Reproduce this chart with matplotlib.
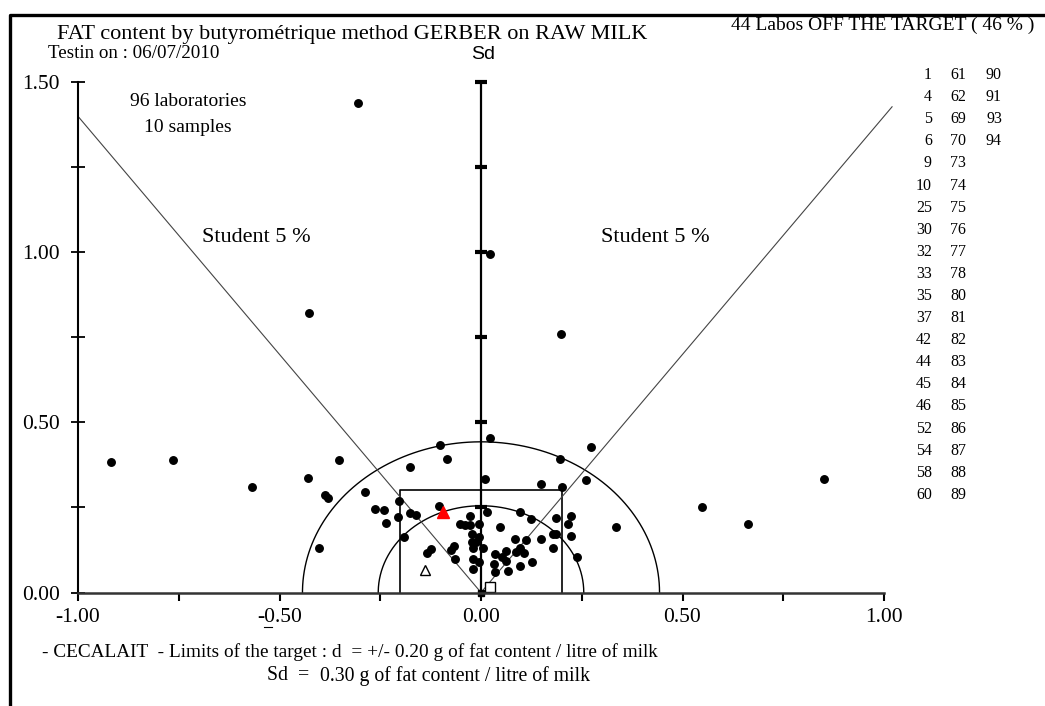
import matplotlib
matplotlib.use("Agg")
import matplotlib.pyplot as plt
from matplotlib.lines import Line2D
from matplotlib.ticker import MultipleLocator, FormatStrFormatter
import numpy as np

W, H, DPI = 1045, 706, 100

# mean deviation d (g/l) and standard deviation Sd (g/l) of each lab
lab_d = [-0.304, 0.022, -0.427, 0.198,
         -0.917, -0.764, -0.567, -0.429, -0.352, -0.387, -0.379, -0.402,
         0.549, 0.662, 0.852, 0.336,
         -0.102, -0.084, -0.177, 0.010, -0.289, -0.203, -0.263, -0.240,
         -0.207, -0.236, -0.177, -0.162, -0.103, -0.190, -0.133, -0.124,
         -0.067, -0.075, -0.065, -0.027, -0.053, -0.040, -0.027, -0.004,
         -0.023, -0.005, -0.023, -0.013, -0.019, 0.005, -0.019, -0.005,
         -0.020, 0.015, 0.022,
         0.272, 0.197, 0.261, 0.149, 0.201, 0.096, 0.123, 0.186, 0.223,
         0.216, 0.047, 0.178, 0.187, 0.223, 0.149, 0.084, 0.112, 0.178,
         0.096, 0.088, 0.107, 0.035, 0.063, 0.051, 0.063, 0.033, 0.097,
         0.126, 0.238, 0.066, 0.035]
lab_sd = [1.439, 0.996, 0.823, 0.760,
          0.384, 0.389, 0.309, 0.336, 0.389, 0.286, 0.277, 0.131,
          0.251, 0.201, 0.335, 0.194,
          0.433, 0.393, 0.370, 0.335, 0.296, 0.269, 0.246, 0.243,
          0.221, 0.205, 0.233, 0.229, 0.255, 0.162, 0.115, 0.127,
          0.138, 0.125, 0.099, 0.224, 0.201, 0.198, 0.198, 0.201,
          0.171, 0.162, 0.148, 0.148, 0.130, 0.132, 0.099, 0.091,
          0.069, 0.238, 0.454,
          0.428, 0.393, 0.331, 0.318, 0.309, 0.238, 0.216, 0.220, 0.224,
          0.202, 0.194, 0.171, 0.171, 0.167, 0.158, 0.158, 0.153, 0.132,
          0.132, 0.118, 0.116, 0.114, 0.123, 0.105, 0.093, 0.083, 0.079,
          0.091, 0.105, 0.064, 0.059]

red_d, red_sd = [-0.094], [0.236]
tri_d, tri_sd = [-0.139], [0.066]
sq_d, sq_sd = [0.022], [0.017]

target_d = 0.20
target_sd = 0.30
student_slope = 1.40
inner_r = 0.255
outer_r = 0.443

labs_off = [1, 4, 5, 6, 9, 10, 25, 30, 32, 33, 35, 37, 42, 44, 45, 46, 52, 54, 58, 60,
            61, 62, 69, 70, 73, 74, 75, 76, 77, 78, 80, 81, 82, 83, 84, 85, 86, 87, 88, 89,
            90, 91, 93, 94]

SERIF = "Liberation Serif"
SANS = "Liberation Sans"
plt.rcParams['font.family'] = SERIF

fig = plt.figure(figsize=(W / DPI, H / DPI), dpi=DPI)
ax = fig.add_axes([78 / W, 1 - 592.5 / H, 806 / W, 510.2 / H])


def ftext(x, y, s, **kw):
    # place text at pixel position of the figure
    fig.text(x / W, 1 - y / H, s, **kw)


# limits of the target
ax.plot([-target_d, -target_d, target_d, target_d], [0, target_sd, target_sd, 0],
        color='black', lw=1.2)

# semicircles
th = np.linspace(0, np.pi, 200)
for r in (inner_r, outer_r):
    ax.plot(r * np.cos(th), r * np.sin(th), color='black', lw=1.0)

# Student lines
ax.plot([-1.0, 0, 1.02], [1.0 * student_slope, 0, 1.02 * student_slope],
        color='#444444', lw=0.8, clip_on=False)

# Sd axis
ax.plot([0, 0], [0, 1.5], color='black', lw=1.6, clip_on=False)
ax.plot([0] * 6, [0.25, 0.5, 0.75, 1.0, 1.25, 1.5], ls='none', marker='_',
        ms=8, mew=3, color='black', clip_on=False)
ax.plot([0], [0], ls='none', marker='s', ms=5, color='black', clip_on=False)

# labs
ax.plot(lab_d, lab_sd, ls='none', marker='o', ms=5.4, color='black')
ax.plot(red_d, red_sd, ls='none', marker='^', ms=8.5, color='red')
ax.plot(tri_d, tri_sd, ls='none', marker='^', ms=7, mfc='white', mec='black', mew=1)
ax.plot(sq_d, sq_sd, ls='none', marker='s', ms=7, mfc='white', mec='black', mew=1,
        clip_on=False)

ax.set_xlim(-1.0, 1.0)
ax.set_ylim(0, 1.5)
for s in ('top', 'right'):
    ax.spines[s].set_visible(False)
ax.spines['left'].set_linewidth(1.5)
ax.spines['bottom'].set_linewidth(1.8)
ax.spines['bottom'].set_color('#333333')

ax.xaxis.set_major_locator(MultipleLocator(0.5))
ax.xaxis.set_minor_locator(MultipleLocator(0.25))
ax.yaxis.set_major_locator(MultipleLocator(0.5))
ax.yaxis.set_minor_locator(MultipleLocator(0.25))
ax.xaxis.set_major_formatter(FormatStrFormatter('%.2f'))
ax.yaxis.set_major_formatter(FormatStrFormatter('%.2f'))
ax.tick_params(axis='x', which='both', direction='out', length=6, width=1.5,
               labelsize=15.5, pad=5)
ax.tick_params(axis='y', which='both', direction='inout', length=10, width=1.3,
               labelsize=15.5, pad=8)
ax.patch.set_alpha(0)

# texts
ftext(57, 39, "FAT content by butyrométrique method GERBER on RAW MILK",
      fontsize=16, va='baseline')
ftext(48, 58, "Testin on : 06/07/2010", fontsize=13.7, va='baseline')
ftext(483, 59, "Sd", fontsize=14, family=SANS, ha='center', va='baseline')
ftext(731, 30, "44 Labos OFF THE TARGET ( 46 % )", fontsize=14, va='baseline')
ftext(188, 102, "96 laboratories", fontsize=14, ha='center', va='center')
ftext(188, 128, "10 samples", fontsize=14, ha='center', va='center')
ftext(202, 237, "Student 5 %", fontsize=16, va='center')
ftext(601, 237, "Student 5 %", fontsize=16, va='center')
ftext(42, 652, "- CECALAIT  - Limits of the target : d  = +/- 0.20 g of fat content / litre of milk",
      fontsize=13.9, va='center')
ftext(267, 676, "Sd  =", fontsize=14.2, va='center')
ftext(320, 676, "0.30 g of fat content / litre of milk", fontsize=14.2, va='center')

col_x = [932, 966, 1002]
for i, lab in enumerate(labs_off):
    c, r = divmod(i, 20)
    ftext(col_x[c], 75 + 22.1 * r, str(lab), fontsize=11.5, ha='right', va='center')

# stray dash under the -0.50 label
fig.add_artist(Line2D([264 / W, 272 / W], [1 - 627 / H, 1 - 627 / H],
                      transform=fig.transFigure, color='black', lw=0.8))

# frame (left and top only visible)
fig.add_artist(Line2D([9.5 / W, 9.5 / W, 1.0], [0.0, 1 - 15 / H, 1 - 15 / H],
                      transform=fig.transFigure, color='black', lw=2.4))

fig.savefig("out.png", dpi=DPI)
